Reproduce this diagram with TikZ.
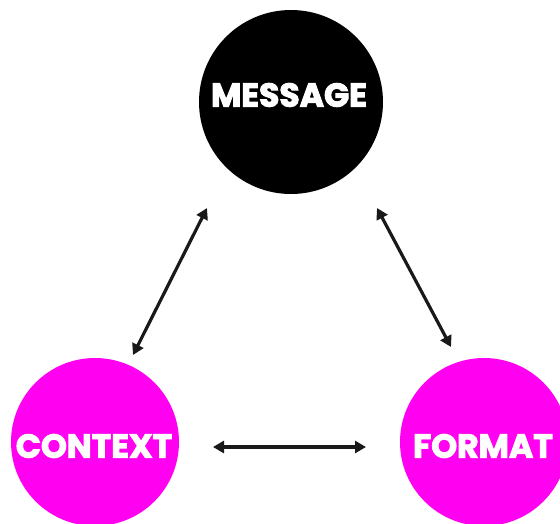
\documentclass[tikz,border=0pt]{standalone}
\usepackage{fontspec}
\newfontfamily\pop{Poppins}[FakeBold=3]
\usetikzlibrary{arrows.meta}
\definecolor{mag}{RGB}{255,0,240}
\tikzset{
  bubble/.style={circle, minimum size=#1, inner sep=0pt},
  label/.style={text=white, inner sep=0pt, font=\pop\bfseries\fontsize{33}{33}\selectfont},
  link/.style={line width=3.2pt, draw=black!90, {Triangle[length=11pt,width=12pt]}-{Triangle[length=11pt,width=12pt]}}
}
\begin{document}
\begin{tikzpicture}[x=1pt,y=-1pt]
\useasboundingbox (0,0) rectangle (560,523);
\node[bubble=184pt, fill=black] (msg) at (291,102) {};
\node[label] (msgt) at (289,95) {MESSAGE};
\node[bubble=168pt, fill=mag] (ctx) at (95,442) {};
\node[label] (ctxt) at (94,446) {CONTEXT};
\node[bubble=168pt, fill=mag] (fmt) at (484,442) {};
\node[label] (fmtt) at (483,446) {FORMAT};
\coordinate (a1) at (207,208);
\coordinate (a2) at (133,355);
\coordinate (b1) at (377,208);
\coordinate (b2) at (451,347);
\coordinate (c1) at (213,447);
\coordinate (c2) at (366,447);
\draw[link] (a1) -- (a2);
\draw[link] (b1) -- (b2);
\draw[link] (c1) -- (c2);
\end{tikzpicture}
\end{document}
